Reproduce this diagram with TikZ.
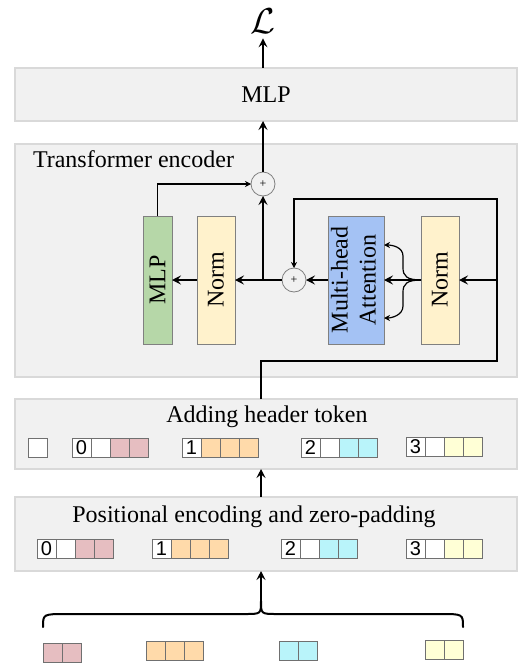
\documentclass[tikz,border=0pt]{standalone}
\usepackage{graphicx}
\usepackage{fontspec}
\setmainfont{Liberation Serif}
\newfontfamily\digitfont{Liberation Sans}
\usepackage{tikz}
\usetikzlibrary{arrows.meta, positioning, calc}

\definecolor{panelgray}{RGB}{241,241,241}
\definecolor{panelline}{RGB}{217,217,217}
\definecolor{blockline}{RGB}{128,128,128}
\definecolor{cellline}{RGB}{112,112,112}
\definecolor{mlpgreen}{HTML}{B6D7A8}
\definecolor{normyellow}{HTML}{FFF2CC}
\definecolor{attnblue}{HTML}{A4C2F4}
\definecolor{tokpink}{HTML}{E6BEC1}
\definecolor{tokorange}{HTML}{FFDAAA}
\definecolor{tokcyan}{HTML}{B9F4FA}
\definecolor{tokyellow}{HTML}{FFFFD6}

% one token: a row of cells, left top corner at (#2,#3)
\newcommand{\tokens}[4]{%
  \foreach \col/\txt [count=\i] in {#4}
    \node[cell,fill=\col,anchor=north west] (#1-\i) at ({#2+(\i-1)*19},#3) {\txt};
}

\begin{document}
\begin{tikzpicture}[x=1pt,y=-1pt,every node/.style={outer sep=0pt,inner sep=0pt,font=\fontsize{24}{28}\selectfont}]
\tikzstyle{panel}=[draw=panelline,fill=panelgray,line width=1.5pt,minimum width=502pt]
\tikzstyle{block}=[draw=blockline,line width=1pt,minimum height=128pt]
\tikzstyle{sum}=[circle,draw=blockline,fill=panelgray,line width=0.8pt,minimum size=24pt,font=\fontsize{12}{12}\selectfont]
\tikzstyle{cell}=[draw=cellline,line width=1pt,minimum size=19pt,font=\digitfont\fontsize{20}{20}\selectfont]
\tikzstyle{link}=[line width=1.2pt]
\tikzstyle{arr}=[link,-{Stealth[length=9pt,width=9pt,inset=3.5pt]}]
\tikzstyle{arrs}=[link,-{Stealth[length=6pt,width=6pt,inset=2pt]}]
\tikzstyle{gather}=[line width=2pt,line cap=round]

\useasboundingbox (0,0) rectangle (518,669);

% stages
\node[panel,minimum height=53pt] (head) at (266,94.5) {MLP};
\node[panel,minimum height=233pt] (enc) at (266,260.5) {};
\node[panel,minimum height=70pt] (hdr) at (266,434) {};
\node[panel,minimum height=74pt] (pe) at (266,534) {};

\node[anchor=base west] (enctitle) at (33,167) {Transformer encoder};
\node[anchor=base] (hdrtitle) at (267,422) {Adding header token};
\node[anchor=base] (petitle) at (254,522) {Positional encoding and zero-padding};

\node (loss) at (263,21) {\scalebox{1.45}{$\mathcal{L}$}};

% encoder
\node[block,fill=mlpgreen,minimum width=29pt] (mlp) at (157.5,280) {\rotatebox{90}{MLP}};
\node[block,fill=normyellow,minimum width=38pt] (norma) at (216,280) {\rotatebox{90}{Norm}};
\node[block,fill=attnblue,minimum width=52pt] (attn) at (356,280) {\rotatebox{90}{\begin{tabular}{@{}c@{}}Multi-head\\Attention\end{tabular}}};
\node[block,fill=normyellow,minimum width=38pt] (normb) at (440,280) {\rotatebox{90}{Norm}};
\node[sum] (adda) at (294,280) {+};
\node[sum] (addb) at (263,184) {+};

\coordinate (tap) at (261,361);
\coordinate (loopr) at (497,199);
\coordinate (fork) at (403,280);

\draw[arr] (addb.north) -- (addb.north |- head.south);
\draw[arr,shorten >=5pt] (head.north -| loss) -- (loss.south);
\draw[arrs] (mlp.north) |- (addb.west);
\draw[arr] (addb |- adda) -- (addb.south);
\draw[arr] (adda.west) -- (norma.east);
\draw[arr] (norma.west) -- (mlp.east);
\draw[arr] (attn.west) -- (adda.east);
\draw[arr] (normb.west) -- (attn.east);
\draw[arrs] (normb.west) .. controls +(-14,0) and +(0,8) .. ($(fork)+(0,-12)$) -- ($(fork)+(0,-24)$) .. controls +(0,-9) and +(8,0) .. ($(attn.east)+(0,-35)$);
\draw[arrs] (normb.west) .. controls +(-14,0) and +(0,-8) .. ($(fork)+(0,12)$) -- ($(fork)+(0,26)$) .. controls +(0,9) and +(8,0) .. ($(attn.east)+(0,38)$);

% residual path
\draw[arrs] (hdr.north -| tap) -- (tap) -| (loopr) -| (adda.north);
\draw[arr] (loopr |- normb.east) -- (normb.east);

\draw[arr] (pe.north -| tap) -- (hdr.south -| tap);

% tokens
\tokens{h}{28}{438}{white/{}}
\tokens{h0}{72}{438}{white/0,white/{},tokpink/{},tokpink/{}}
\tokens{h1}{182}{438}{white/1,tokorange/{},tokorange/{},tokorange/{}}
\tokens{h2}{301}{438}{white/2,white/{},tokcyan/{},tokcyan/{}}
\tokens{h3}{406}{437}{white/3,white/{},tokyellow/{},tokyellow/{}}

\tokens{p0}{37}{539}{white/0,white/{},tokpink/{},tokpink/{}}
\tokens{p1}{152}{539}{white/1,tokorange/{},tokorange/{},tokorange/{}}
\tokens{p2}{281}{539}{white/2,white/{},tokcyan/{},tokcyan/{}}
\tokens{p3}{406}{539}{white/3,white/{},tokyellow/{},tokyellow/{}}

\tokens{s0}{43}{643}{tokpink/{},tokpink/{}}
\tokens{s1}{146}{641}{tokorange/{},tokorange/{},tokorange/{}}
\tokens{s2}{279}{641}{tokcyan/{},tokcyan/{}}
\tokens{s3}{425}{640}{tokyellow/{},tokyellow/{}}

% inputs gathered
\coordinate (gatherpt) at (261,601);
\draw[gather] (43,627) .. controls (43,614) .. (67,614) -- (245,614) .. controls (261,614) .. (gatherpt) .. controls (261,614) .. (277,614) -- (440,614) .. controls (463,614) .. (463,627);
\draw[arr] (gatherpt) -- (pe.south -| gatherpt);
\end{tikzpicture}
\end{document}
